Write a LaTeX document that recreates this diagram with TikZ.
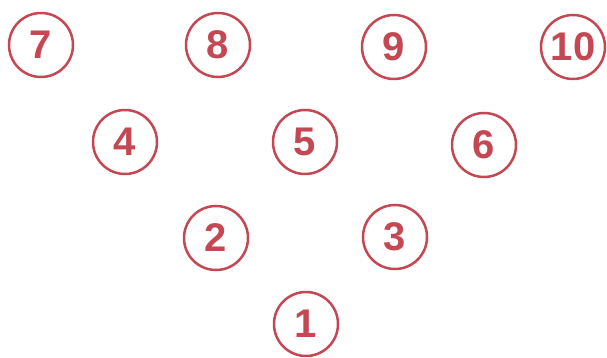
\documentclass[tikz,border=0pt]{standalone}
\usepackage{fontspec}
\setmainfont{Liberation Sans}
\usepackage{tikz}

\definecolor{pinred}{RGB}{196,72,84}

\begin{document}
\begin{tikzpicture}[x=1pt,y=-1pt,
    pin/.style={circle,draw=pinred,line width=2.5pt,text=pinred,
      minimum size=64pt,inner sep=0pt,font=\fontsize{40}{40}\selectfont\bfseries}]
      \useasboundingbox (0,0) rectangle (607,358);
      \node[pin] (p7) at (41,45) {7};
      \node[pin] (p8) at (218,45) {8};
      \node[pin] (p9) at (394,47) {9};
      \node[pin] (p10) at (573,47) {10};
      \node[pin] (p4) at (125,142) {4};
      \node[pin] (p5) at (305,142) {5};
      \node[pin] (p6) at (484,145) {6};
      \node[pin] (p2) at (216,238) {2};
      \node[pin] (p3) at (395,237) {3};
      \node[pin] (p1) at (306,324) {1};
    \end{tikzpicture}
\end{document}
